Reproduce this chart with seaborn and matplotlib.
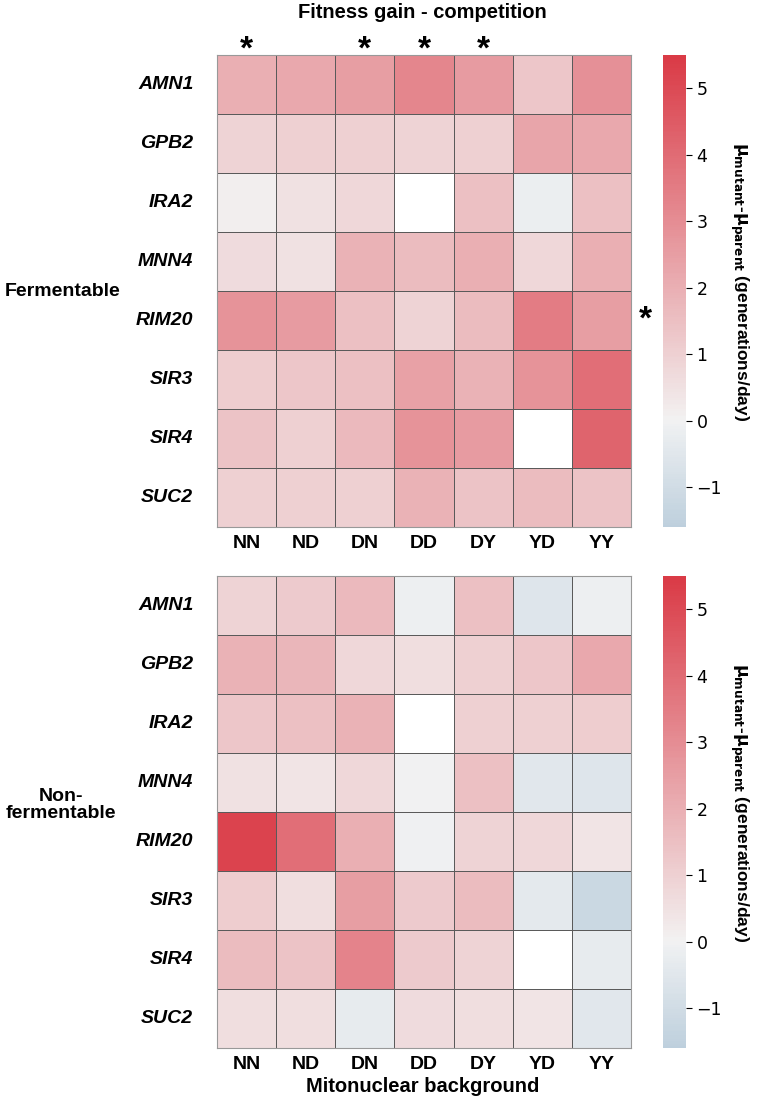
import matplotlib
matplotlib.use('Agg')
import matplotlib.pyplot as plt
import seaborn as sns
import numpy as np
import pandas as pd

#genes (rows) and mitonuclear backgrounds (columns)
genes = ['AMN1', 'GPB2', 'IRA2', 'MNN4', 'RIM20', 'SIR3', 'SIR4', 'SUC2']
backgrounds = ['NN', 'ND', 'DN', 'DD', 'DY', 'YD', 'YY']

#fitness gain values, fermentable carbon source (nan = missing)
fermentable = [
    [2.0, 2.2, 2.5, 3.2, 2.6, 1.3, 2.9],
    [0.9, 1.0, 1.0, 0.9, 1.0, 2.3, 2.2],
    [0.1, 0.5, 0.8, np.nan, 1.5, -0.2, 1.5],
    [0.7, 0.5, 1.9, 1.6, 2.0, 0.8, 2.0],
    [2.8, 2.6, 1.5, 0.9, 1.6, 3.5, 2.5],
    [1.1, 1.3, 1.5, 2.4, 1.9, 2.8, 3.9],
    [1.4, 1.0, 1.7, 2.8, 2.6, np.nan, 4.2],
    [1.0, 1.0, 1.0, 1.9, 1.4, 1.6, 1.4],
]

#fitness gain values, non-fermentable carbon source
nonfermentable = [
    [0.9, 1.2, 1.7, -0.1, 1.5, -0.6, -0.1],
    [1.9, 1.8, 0.8, 0.6, 1.0, 1.3, 2.2],
    [1.3, 1.5, 1.9, np.nan, 1.0, 1.0, 1.1],
    [0.5, 0.4, 0.8, 0.0, 1.5, -0.5, -0.6],
    [5.2, 3.9, 2.0, -0.05, 0.9, 0.8, 0.4],
    [1.1, 0.6, 2.5, 1.2, 1.6, -0.4, -1.2],
    [1.6, 1.4, 3.3, 1.2, 0.9, np.nan, -0.3],
    [0.6, 0.6, -0.3, 0.7, 0.6, 0.4, -0.5],
]

#significance markers
star_columns = ['NN', 'DN', 'DD', 'DY']
star_row = 'RIM20'

cmap = sns.diverging_palette(240, 10, as_cmap=True)
cbar_label = r'$\mathbf{\mu_{mutant}}$-$\mathbf{\mu_{parent}}$ (generations/day)'

fig = plt.figure(figsize=(7.6, 11.1), dpi=100)
panels = [
    (fermentable, 0.5252, 'Fermentable', 0.006, 'left', 0.0),
    (nonfermentable, 0.0559, 'Non-\nfermentable', 0.08, 'center', 0.006),
]

axes = []
for values, bottom, cond, tx, ha, dy in panels:
    df = pd.DataFrame(values, index=genes, columns=backgrounds)
    ax = fig.add_axes([0.2855, bottom, 0.5447, 0.4252])
    cax = fig.add_axes([0.8724, bottom, 0.0303, 0.4252])
    sns.heatmap(df, ax=ax, cbar_ax=cax, cmap=cmap, center=0,
                vmin=-1.6, vmax=5.5, linewidths=0.7, linecolor='#5a5a5a')
    ax.tick_params(length=0)
    ax.tick_params(axis='y', pad=17)
    ax.tick_params(axis='x', pad=6)
    ax.set_xlabel('')
    ax.set_ylabel('')
    ax.set_xticklabels(backgrounds, fontsize=14, fontweight='bold',
                       family='Liberation Sans', rotation=0)
    ax.set_yticklabels(genes, fontsize=14, fontweight='bold', style='italic',
                       family='Liberation Sans', rotation=0)
    for sp in ax.spines.values():
        sp.set_visible(True)
        sp.set_color('#999999')
        sp.set_linewidth(0.8)
    cbar = ax.collections[0].colorbar
    cbar.set_ticks([-1, 0, 1, 2, 3, 4, 5])
    cbar.ax.tick_params(labelsize=12.5, length=4, width=0.8)
    cbar.set_label(cbar_label, rotation=270, fontsize=12.5, fontweight='bold',
                   labelpad=20, family='Liberation Sans')
    cbar.ax.yaxis.label.set_y(0.52)
    fig.text(tx, bottom + 0.4252 / 2 + dy, cond, ha=ha, va='center', fontsize=14,
             fontweight='bold', family='Liberation Sans', linespacing=1.0)
    axes.append(ax)

#asterisks on top panel
top = axes[0]
for col in star_columns:
    top.text(backgrounds.index(col) + 0.5, 0.17, '*', ha='center', va='bottom',
             fontsize=24, fontweight='bold', family='Liberation Sans', clip_on=False)
top.text(7.24, genes.index(star_row) + 0.5, '*', ha='center', va='center',
         fontsize=24, fontweight='bold', family='Liberation Sans', clip_on=False)

fig.text(0.556, 1 - 13 / 1110, 'Fitness gain - competition', ha='center', va='center',
         fontsize=14.5, fontweight='bold', family='Liberation Sans')
fig.text(0.556, 1 - 1086 / 1110, 'Mitonuclear background', ha='center', va='center',
         fontsize=14.5, fontweight='bold', family='Liberation Sans')

fig.savefig('out.png', dpi=100)
